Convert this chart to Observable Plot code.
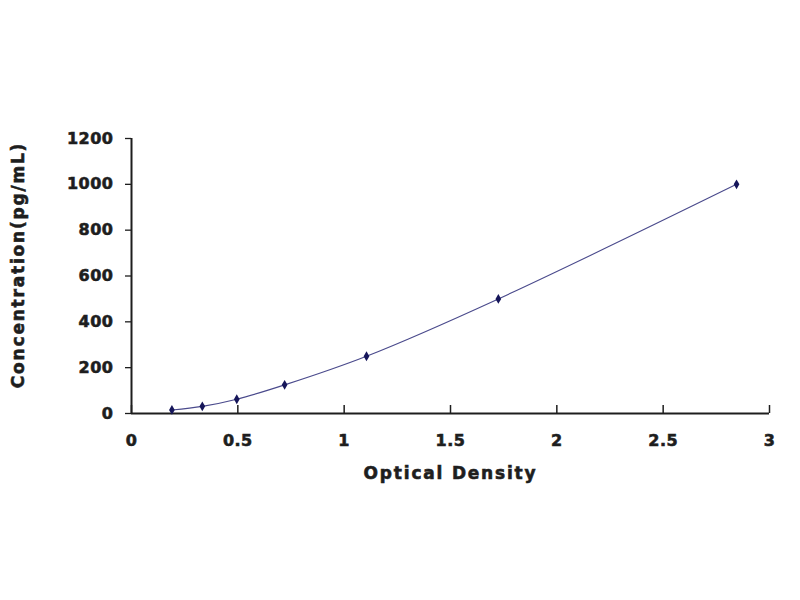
<!DOCTYPE html>
<html>
<head>
<meta charset="utf-8">
<script src="https://cdn.jsdelivr.net/npm/d3@7"></script>
<script src="https://cdn.jsdelivr.net/npm/@observablehq/plot@0.6"></script>
<style>
  html, body { margin: 0; padding: 0; background: #fff; }
  #chart { width: 800px; height: 600px; }
</style>
</head>
<body>
<div id="chart"></div>
<script>
// Standard curve data
const opticalDensity = [0.19, 0.333, 0.495, 0.72, 1.105, 1.725, 2.845];
const concentration = [15.6, 31.25, 62.5, 125, 250, 500, 1000];
const xTicks = [0, 0.5, 1, 1.5, 2, 2.5, 3];
const yTicks = [0, 200, 400, 600, 800, 1000, 1200];
const xLabel = "Optical Density";
const yLabel = "Concentration(pg/mL)";

const points = opticalDensity.map((od, i) => ({od, conc: concentration[i]}));

const ink = "#1e1e1e";
const font = "DejaVu Sans";

const chart = Plot.plot({
  width: 800,
  height: 600,
  marginLeft: 131,
  marginRight: 31,
  marginTop: 138,
  marginBottom: 187,
  style: {fontFamily: font, fontSize: "16px", fontWeight: "bold", color: ink, background: "#fff"},
  x: {domain: [0, 3], ticks: xTicks},
  y: {domain: [0, 1200], ticks: yTicks},
  marks: [
    Plot.axisX(xTicks, {tickSize: 0, tickPadding: 21, label: null, fontSize: 16, fontWeight: "bold", tickFormat: d => String(d)}),
    Plot.axisY(yTicks, {tickSize: 6, tickPadding: 12, label: null, fontSize: 16, fontWeight: "bold", stroke: ink, strokeWidth: 1.3, tickFormat: d => String(d)}),
    Plot.tickX(xTicks, {x: d => d, insetTop: 267, stroke: ink, strokeWidth: 1.5}),
    Plot.ruleX([0], {y1: 0, y2: 1200, stroke: ink, strokeWidth: 2}),
    Plot.ruleY([0], {x1: 0, x2: 3, stroke: ink, strokeWidth: 2}),
    Plot.line(points, {x: "od", y: "conc", curve: "catmull-rom", stroke: "#4a4a8c", strokeWidth: 1.1}),
    Plot.dot(points, {x: "od", y: "conc", symbol: "diamond", r: 3, fill: "#16165a", stroke: "none"}),
    Plot.text([xLabel], {frameAnchor: "bottom", dy: 60, textAnchor: "middle", fontSize: 17, fontWeight: "bold", fill: ink, lineAnchor: "middle"}),
    Plot.text([yLabel], {frameAnchor: "left", dx: -113, dy: -11, rotate: -90, textAnchor: "middle", fontSize: 17, fontWeight: "bold", fill: ink, lineAnchor: "middle"})
  ]
});

const s = d3.select(chart);
s.selectAll("text").attr("font-family", font).attr("font-weight", "bold")
  .attr("stroke", ink).attr("stroke-width", 0.6).attr("paint-order", "normal");
s.selectAll('g[aria-label="text"] text').attr("letter-spacing", "1.8px");
s.selectAll('g[aria-label="x-axis tick label"] text, g[aria-label="y-axis tick label"] text').attr("letter-spacing", "0.5px");
document.getElementById("chart").appendChild(chart);
</script>
</body>
</html>
